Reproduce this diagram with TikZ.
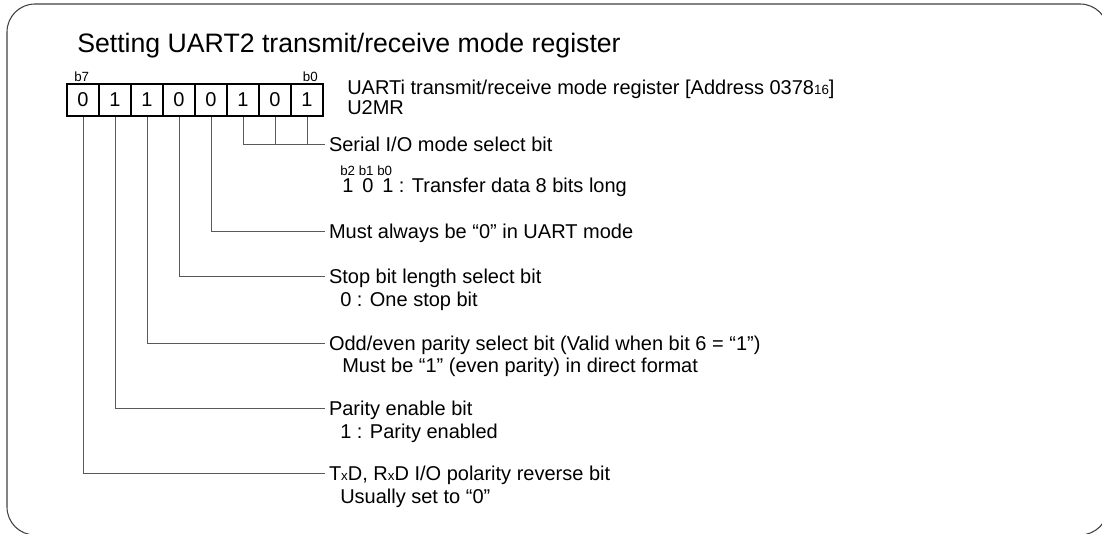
\documentclass[tikz,border=0pt]{standalone}
\usepackage{fontspec}
\setmainfont{Liberation Sans}
\usetikzlibrary{positioning}

\newcommand{\bodyfont}{\fontsize{15}{17}\selectfont}
\newcommand{\smallfont}{\fontsize{10}{12}\selectfont}

\tikzset{
	bitbox/.style = {draw, line width = 1pt, minimum width = 24pt, minimum height = 24pt, inner sep = 0pt, font = \bodyfont},
	bitlbl/.style = {inner sep = 0pt, font = \smallfont},
	desc/.style = {anchor = west, inner sep = 0pt, outer sep = 3pt, text height = 11pt, text depth = 0pt, font = \bodyfont},
	subdesc/.style = {anchor = base west, inner sep = 0pt, font = \bodyfont},
	leader/.style = {draw = black!65, line width = 0.6pt}
}

\begin{document}
\begin{tikzpicture}[x = 0.75pt, y = -0.75pt]
	\useasboundingbox (0,0) rectangle (1102,534);
	\clip (0,0) rectangle (1102,534);
	\draw[black!75, line width = 0.8pt, rounded corners = 21pt] (7,4) rectangle (1108,535);

	\node[anchor = base west, inner sep = 0pt, font = \fontsize{20}{24}\selectfont] (title) at (77,53) {Setting UART2 transmit/receive mode register};

	% register bits
	\path
	(83,100) node[bitbox](B7){0}		%b7
	(115,100) node[bitbox](B6){1}		%b6
	(147,100) node[bitbox](B5){1}		%b5
	(179,100) node[bitbox](B4){0}		%b4
	(211,100) node[bitbox](B3){0}		%b3
	(243,100) node[bitbox](B2){1}		%b2
	(275,100) node[bitbox](B1){0}		%b1
	(307,100) node[bitbox](B0){1};		%b0
	\node[bitlbl, anchor = base west] (lb7) at (74,82) {b7};
	\node[bitlbl, anchor = base east] (lb0) at (318,82) {b0};

	\node[subdesc] (reg) at (347,95) {UARTi transmit/receive mode register [Address 0378{\smallfont 16}]};
	\node[subdesc] (regname) at (347,115) {U2MR};

	% bit descriptions
	\node[desc] (ser) at (325,144) {Serial I/O mode select bit};
	\node[bitlbl, anchor = base west] (serbits) at (340,176) {b2 b1 b0};
	\node[subdesc] (serval) at (342,193) {1 \,0 \,1 : Transfer data 8 bits long};

	\node[desc] (must) at (325,231) {Must always be “0” in UART mode};

	\node[desc] (stop) at (325,276) {Stop bit length select bit};
	\node[subdesc] (stopval) at (340,306) {0 : One stop bit};

	\node[desc] (odd) at (325,343) {Odd/even parity select bit (Valid when bit 6 = “1”)};
	\node[subdesc] (oddval) at (342,373) {Must be “1” (even parity) in direct format};

	\node[desc] (par) at (325,408) {Parity enable bit};
	\node[subdesc] (parval) at (340,438) {1 : Parity enabled};

	\node[desc] (pol) at (325,473) {T{\smallfont x}D, R{\smallfont x}D I/O polarity reverse bit};
	\node[subdesc] (polval) at (340,503) {Usually set to “0”};

	% leaders
	\draw[leader] (B2.south) |- (ser.west);
	\draw[leader] (B1.south) -- (B1.south |- ser.west);
	\draw[leader] (B0.south) -- (B0.south |- ser.west);
	\draw[leader] (B3.south) |- (must.west);
	\draw[leader] (B4.south) |- (stop.west);
	\draw[leader] (B5.south) |- (odd.west);
	\draw[leader] (B6.south) |- (par.west);
	\draw[leader] (B7.south) |- (pol.west);
\end{tikzpicture}
\end{document}
